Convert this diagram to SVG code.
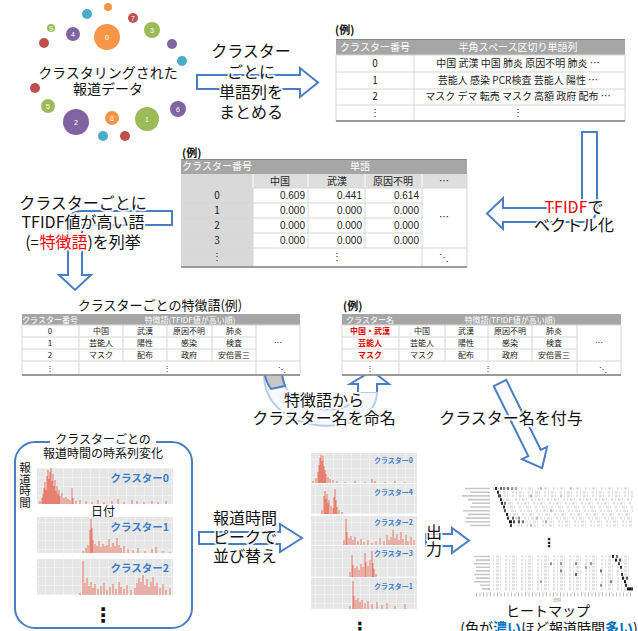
<svg xmlns="http://www.w3.org/2000/svg" width="638" height="631" viewBox="0 0 638 631">
<style>
.jp{font-family:"Noto Sans CJK JP","Noto Sans",sans-serif}
.t16{font-size:16px;fill:#111;text-anchor:middle}
.lbl{paint-order:stroke;stroke:#fff;stroke-width:4;stroke-opacity:.85;stroke-linejoin:round}
.arr{fill:#fff;stroke:#4a7dc1;stroke-width:2;stroke-linejoin:miter}
.hd{fill:#fff;font-size:10px;text-anchor:middle}
.hd8{fill:#fff;font-size:8px;text-anchor:middle}
.c10{font-size:10px;fill:#222;text-anchor:middle}
.c8{font-size:8px;fill:#222;text-anchor:middle}
.r10{font-size:10px;fill:#222;text-anchor:end;font-family:"Liberation Sans",sans-serif}
.red8{font-size:8px;fill:#e00000;font-weight:bold;text-anchor:middle}
.ln{stroke:#d6d6d6;stroke-width:1}
.bot{stroke:#7f7f7f;stroke-width:1.5}
.bars{stroke:#e8806f;stroke-width:1.1;fill:none}
.cl{font-size:10.5px;font-weight:bold;fill:#3a7ccb;text-anchor:end}
.cls{font-size:7px;font-weight:bold;fill:#3a7ccb;text-anchor:end}
.num{font-family:"Liberation Sans",sans-serif;font-size:7px;fill:#fff;text-anchor:middle}
.hr{stroke:#e2e2e2;stroke-width:2.6;stroke-dasharray:1 2 3 1 1 4 2 2}
</style>
<defs>
<pattern id="g" x="0" y="0" width="9" height="9" patternUnits="userSpaceOnUse">
<rect width="9" height="9" fill="#e6e6e6"/>
<path d="M0 0V9M0 0H9" stroke="#fff" stroke-width="0.7"/>
</pattern>
</defs>
<rect width="638" height="631" fill="#fff"/>

<!-- cluster image -->
<g id="clusters">
<circle cx="108" cy="7" r="4" fill="#f79646"/>
<circle cx="87" cy="14" r="5" fill="#4bacc6"/>
<circle cx="133" cy="18" r="5" fill="#c0504d"/><text class="num" x="133" y="20.5">7</text>
<circle cx="51" cy="28" r="4" fill="#9bbb59"/><text class="num" x="51" y="30.5" font-size="6">9</text>
<circle cx="73" cy="34" r="7" fill="#8064a2"/><text class="num" x="73" y="36.5">4</text>
<circle cx="107" cy="37" r="13" fill="#f79646"/><text class="num" x="107" y="39.5">0</text>
<circle cx="152" cy="30" r="8" fill="#9bbb59"/><text class="num" x="152" y="32.5">3</text>
<circle cx="44" cy="43" r="5" fill="#c0504d"/>
<circle cx="172" cy="44" r="5" fill="#8064a2"/>
<circle cx="182" cy="61" r="5" fill="#4bacc6"/>
<circle cx="35" cy="88" r="5" fill="#c0504d"/>
<circle cx="48" cy="106" r="7" fill="#9bbb59"/><text class="num" x="48" y="108.5">5</text>
<circle cx="178" cy="109" r="8" fill="#8064a2"/><text class="num" x="178" y="111.5">6</text>
<circle cx="76" cy="122" r="13" fill="#8064a2"/><text class="num" x="76" y="124.5">2</text>
<circle cx="112" cy="118" r="7" fill="#f79646"/><text class="num" x="112" y="120.5">8</text>
<circle cx="147" cy="119" r="12" fill="#9bbb59"/><text class="num" x="147" y="121.5">1</text>
<circle cx="103" cy="136" r="5" fill="#4bacc6"/>
<circle cx="125" cy="136" r="5" fill="#c0504d"/>
<text class="jp" x="108" y="78" font-size="14" text-anchor="middle" fill="#111">クラスタリングされた</text>
<text class="jp" x="108" y="94" font-size="14" text-anchor="middle" fill="#111">報道データ</text>
</g>

<!-- connectors -->
<g id="connectors">
<path class="arr" d="M197,75 H300 V68 L318,82.5 L300,97 V89 H197 Z"/>
<path class="arr" d="M582,132 H597 V207 Q597,222 582,222 H503 V229 L487,213.5 L503,198 V208 H582 Z"/>
<path class="arr" d="M172,211 H82 Q68,211 68,225 V275 H59 L75,290 L91,275 H82 V225 H172 Z"/>
<path d="M264,372 C262,440 377,440 377,392 L358,392 C358,418 283,418 282,372 Z" fill="#eef3fa" fill-opacity="0.6" stroke="#b9cce7" stroke-width="2"/>
<path d="M358,392 V384 H350 L372,371 L389,384 H377 V392" class="arr"/>
<path d="M264,369 H281 Q282,378 285,386 L271,389 Q265,381 264,369 Z" fill="#c8c8c8" stroke="#4a7dc1" stroke-width="2"/>
<path class="arr" transform="translate(500,383) rotate(63.7)" d="M0,-7 H78 V-14 L95,0 L78,14 V7 H0 Z"/>
<path class="arr" d="M199,532 H280 V524 L302,538 L280,552 V544 H199 Z"/>
<path class="arr" d="M426,534 H452 V528 L469,540.5 L452,553 V546 H426 Z"/>
</g>

<!-- arrow labels -->
<g id="label-matome" class="jp t16 lbl">
<text x="251" y="57">クラスター</text>
<text x="251" y="78">ごとに</text>
<text x="251" y="98">単語列を</text>
<text x="251" y="118">まとめる</text>
</g>
<g id="label-tfidf" class="jp t16 lbl">
<text x="574" y="213"><tspan fill="#ff0000">TFIDF</tspan>で</text>
<text x="574" y="231">ベクトル化</text>
</g>
<g id="label-tokucho" class="jp t16 lbl">
<text x="83" y="209">クラスターごとに</text>
<text x="83" y="228">TFIDF値が高い語</text>
<text x="83" y="248">(=<tspan fill="#ff0000">特徴語</tspan>)を列挙</text>
</g>
<g id="label-meimei" class="jp t16 lbl">
<text x="324" y="406">特徴語から</text>
<text x="324" y="424">クラスター名を命名</text>
</g>
<g id="label-fuyo" class="jp t16 lbl">
<text x="511" y="424">クラスター名を付与</text>
</g>
<g id="label-sort" class="jp t16 lbl">
<text x="245" y="524">報道時間</text>
<text x="245" y="543">ピークで</text>
<text x="245" y="562">並び替え</text>
</g>
<g id="label-out" class="jp t16 lbl">
<text x="434" y="538">出</text>
<text x="434" y="555">力</text>
</g>

<!-- table 1 -->
<g id="table-words" class="jp">
<text x="335" y="34" font-size="11" font-weight="bold" fill="#111">(例)</text>
<rect x="336" y="39" width="289" height="16" fill="#a6a6a6"/>
<line x1="336" y1="39.5" x2="625" y2="39.5" stroke="#8a8a8a"/>
<rect x="336" y="55" width="289" height="66" fill="#fff" class="ln"/>
<path class="ln" d="M336 72H625M336 89H625M336 105H625M414 55V121"/>
<line class="bot" x1="336" y1="121" x2="625" y2="121"/>
<text class="hd" x="375" y="51">クラスター番号</text>
<text class="hd" x="518" y="51">半角スペース区切り単語列</text>
<text class="c10" x="375" y="67">0</text>
<text class="c10" x="375" y="84">1</text>
<text class="c10" x="375" y="100">2</text>
<text class="c10" x="375" y="116">⋮</text>
<text class="c10" x="518" y="67">中国 武漢 中国 肺炎 原因不明 肺炎 …</text>
<text class="c10" x="518" y="84">芸能人 感染 PCR検査 芸能人 陽性 …</text>
<text class="c10" x="518" y="100">マスク デマ 転売 マスク 高額 政府 配布 …</text>
<text class="c10" x="518" y="116">⋮</text>
</g>

<!-- table 2 -->
<g id="table-tfidf" class="jp">
<text x="182" y="157" font-size="11" font-weight="bold" fill="#111">(例)</text>
<rect x="181" y="159" width="286" height="15" fill="#a6a6a6"/>
<line x1="181" y1="159.5" x2="467" y2="159.5" stroke="#8a8a8a"/>
<rect x="181" y="174" width="72" height="93" fill="#d9d9d9"/>
<rect x="253" y="174" width="214" height="14" fill="#dedede"/>
<path d="M308 174V188M365 174V188M422 174V188M253 174V188" stroke="#fff"/>
<rect x="253" y="188" width="214" height="79" fill="#fff"/>
<path class="ln" d="M253 188H467M253 203H422M253 218H422M253 233H422M253 248H467M253 188V267M308 188V248M365 188V248M422 188V267M467 174V267M181 203H253M181 218H253M181 233H253M181 248H253"/>
<line class="bot" x1="181" y1="267" x2="467" y2="267"/>
<text class="hd" x="217" y="170">クラスター番号</text>
<text class="hd" x="360" y="170">単語</text>
<text class="c10" x="280" y="185">中国</text>
<text class="c10" x="337" y="185">武漢</text>
<text class="c10" x="393" y="185">原因不明</text>
<text class="c10" x="444" y="185">…</text>
<text class="c10" x="217" y="199">0</text>
<text class="c10" x="217" y="214">1</text>
<text class="c10" x="217" y="229">2</text>
<text class="c10" x="217" y="244">3</text>
<text class="c10" x="217" y="260">⋮</text>
<text class="r10" x="305" y="199">0.609</text><text class="r10" x="362" y="199">0.441</text><text class="r10" x="419" y="199">0.614</text>
<text class="r10" x="305" y="214">0.000</text><text class="r10" x="362" y="214">0.000</text><text class="r10" x="419" y="214">0.000</text>
<text class="r10" x="305" y="229">0.000</text><text class="r10" x="362" y="229">0.000</text><text class="r10" x="419" y="229">0.000</text>
<text class="r10" x="305" y="244">0.000</text><text class="r10" x="362" y="244">0.000</text><text class="r10" x="419" y="244">0.000</text>
<text class="c10" x="444" y="221">…</text>
<text class="c10" x="337" y="260">⋮</text>
<text class="c10" x="444" y="261">⋱</text>
</g>

<!-- table 3 -->
<g id="table-features" class="jp">
<text x="160" y="310" font-size="13" text-anchor="middle" fill="#111">クラスターごとの特徴語(例)</text>
<rect x="22" y="314" width="278" height="11" fill="#a6a6a6"/>
<rect x="22" y="325" width="278" height="50" fill="#fff" class="ln"/>
<path class="ln" d="M22 337H256M22 349H256M22 361H300M79 325V375M123 325V361M167 325V361M212 325V361M256 325V375"/>
<line class="bot" x1="22" y1="375" x2="300" y2="375"/>
<text class="hd8" x="50" y="322.5">クラスター番号</text>
<text class="hd8" x="190" y="322.5">特徴語(TFIDF値が高い順)</text>
<text class="c8" x="50" y="334">0</text><text class="c8" x="101" y="334">中国</text><text class="c8" x="145" y="334">武漢</text><text class="c8" x="189" y="334">原因不明</text><text class="c8" x="234" y="334">肺炎</text>
<text class="c8" x="50" y="346">1</text><text class="c8" x="101" y="346">芸能人</text><text class="c8" x="145" y="346">陽性</text><text class="c8" x="189" y="346">感染</text><text class="c8" x="234" y="346">検査</text>
<text class="c8" x="50" y="358">2</text><text class="c8" x="101" y="358">マスク</text><text class="c8" x="145" y="358">配布</text><text class="c8" x="189" y="358">政府</text><text class="c8" x="234" y="358">安倍晋三</text>
<text class="c8" x="278" y="346" fill="#888">…</text>
<text class="c8" x="50" y="371">⋮</text><text class="c8" x="167" y="371">⋮</text><text class="c8" x="282" y="372" fill="#888">⋱</text>
</g>

<!-- table 4 -->
<g id="table-names" class="jp">
<text x="343" y="310" font-size="11" font-weight="bold" fill="#111">(例)</text>
<rect x="342" y="314" width="279" height="11" fill="#a6a6a6"/>
<rect x="342" y="325" width="279" height="50" fill="#fff" class="ln"/>
<path class="ln" d="M342 337H577M342 349H577M342 361H621M399 325V375M445 325V361M488 325V361M532 325V361M577 325V375"/>
<line class="bot" x1="342" y1="375" x2="621" y2="375"/>
<text class="hd8" x="370" y="322.5">クラスター名</text>
<text class="hd8" x="510" y="322.5">特徴語(TFIDF値が高い順)</text>
<text class="red8" x="370" y="334">中国・武漢</text><text class="c8" x="422" y="334">中国</text><text class="c8" x="466" y="334">武漢</text><text class="c8" x="510" y="334">原因不明</text><text class="c8" x="554" y="334">肺炎</text>
<text class="red8" x="370" y="346">芸能人</text><text class="c8" x="422" y="346">芸能人</text><text class="c8" x="466" y="346">陽性</text><text class="c8" x="510" y="346">感染</text><text class="c8" x="554" y="346">検査</text>
<text class="red8" x="370" y="358">マスク</text><text class="c8" x="422" y="358">マスク</text><text class="c8" x="466" y="358">配布</text><text class="c8" x="510" y="358">政府</text><text class="c8" x="554" y="358">安倍晋三</text>
<text class="c8" x="599" y="346" fill="#888">…</text>
<text class="c8" x="370" y="371">⋮</text><text class="c8" x="488" y="371">⋮</text><text class="c8" x="603" y="372" fill="#888">⋱</text>
</g>

<!-- time series box -->
<g id="timeseries" class="jp">
<rect x="15" y="442" width="177" height="186" rx="20" fill="none" stroke="#4a7dc1" stroke-width="2"/>
<rect x="50" y="434" width="106" height="16" fill="#fff"/>
<text x="103" y="444" font-size="12" text-anchor="middle" fill="#111">クラスターごとの</text>
<text x="103" y="458" font-size="12" text-anchor="middle" fill="#111">報道時間の時系列変化</text>
<text x="25" y="462" font-size="11.5" fill="#111" style="writing-mode:vertical-rl">報道時間</text>
<rect x="37" y="468" width="136" height="36" fill="url(#g)"/>
<path class="bars" d="M40 504V501M42 504V498M43 504V494M44 504V488M45 504V482M46 504V490M47 504V476M48 504V470M49 504V479M50 504V472M51 504V468M52 504V481M53 504V474M54 504V486M55 504V480M56 504V491M57 504V486M58 504V494M59 504V490M60 504V496M62 504V493M64 504V498M66 504V497M68 504V499M70 504V500M72 504V488M73 504V498M76 504V501M80 504V500M86 504V501M92 504V502M98 504V500M104 504V502M112 504V501M118 504V499M124 504V502M132 504V500M137 504V501M144 504V502M152 504V501M158 504V502M166 504V501"/>
<text class="cl" x="169" y="482">クラスター0</text>
<text x="103" y="516" font-size="12" text-anchor="middle" fill="#111">日付</text>
<rect x="37" y="517" width="136" height="36" fill="url(#g)"/>
<path class="bars" d="M83 553V551M86 553V548M88 553V545M90 553V530M91 553V519M92 553V528M93 553V540M95 553V544M97 553V546M99 553V541M101 553V547M103 553V544M105 553V546M107 553V545M109 553V539M111 553V547M113 553V543M115 553V546M117 553V538M119 553V545M121 553V548M124 553V546M128 553V549M133 553V550M138 553V548M145 553V551M152 553V549M156 553V547M163 553V551M170 553V552"/>
<text class="cl" x="169" y="531">クラスター1</text>
<rect x="37" y="559" width="136" height="36" fill="url(#g)"/>
<path class="bars" d="M80 595V593M83 595V561M85 595V583M87 595V578M89 595V586M91 595V582M93 595V588M95 595V584M98 595V589M101 595V586M104 595V583M107 595V590M110 595V587M113 595V584M116 595V589M119 595V582M121 595V587M124 595V589M127 595V585M131 595V590M135 595V588M137 595V583M139 595V578M141 595V582M143 595V575M145 595V585M147 595V579M149 595V587M151 595V582M153 595V577M155 595V586M157 595V583M160 595V588M163 595V584M166 595V590M170 595V588"/>
<text class="cl" x="169" y="572">クラスター2</text>
<text x="103" y="622" font-size="20" font-weight="bold" text-anchor="middle" fill="#111" font-family="DejaVu Sans">⋮</text>
</g>

<!-- sorted panels -->
<g id="sorted" class="jp">
<rect x="311" y="453" width="106" height="30" fill="url(#g)"/>
<rect x="311" y="484" width="106" height="30" fill="url(#g)"/>
<rect x="311" y="516" width="106" height="29" fill="url(#g)"/>
<rect x="311" y="546" width="106" height="31" fill="url(#g)"/>
<rect x="311" y="578" width="106" height="31" fill="url(#g)"/>
<path class="bars" d="M313 483V481M316 483V478M318 483V472M319 483V465M320 483V458M321 483V455M322 483V461M323 483V456M324 483V466M325 483V470M326 483V474M328 483V477M330 483V479M333 483V480M337 483V481M345 483V482M355 483V481M365 483V482M372 483V479M375 483V481M385 483V482M395 483V481M405 483V482"/>
<path class="bars" d="M322 514V510M324 514V496M325 514V491M326 514V499M327 514V494M328 514V503M329 514V500M331 514V506M333 514V508M334 514V497M335 514V489M336 514V500M337 514V507M339 514V510M342 514V512"/>
<path class="bars" d="M344 545V540M346 545V519M347 545V532M349 545V538M351 545V536M353 545V540M355 545V537M358 545V541M361 545V539M364 545V542M368 545V540M372 545V543M376 545V541M380 545V538M384 545V541M387 545V535M389 545V540M391 545V537M393 545V530M395 545V538M397 545V534M399 545V540M401 545V532M403 545V539M406 545V535M408 545V541M411 545V537M414 545V540"/>
<path class="bars" d="M350 577V572M352 577V555M353 577V565M355 577V568M357 577V566M359 577V570M361 577V564M363 577V567M365 577V553M366 577V562M368 577V566M370 577V560M372 577V551M373 577V563M374 577V569M376 577V574"/>
<path class="bars" d="M350 609V606M353 609V581M354 609V596M356 609V600M358 609V598M360 609V602M362 609V600M365 609V603M368 609V601M372 609V604M377 609V602M382 609V605M387 609V603M395 609V606M405 609V604"/>
<text class="cls" x="413" y="463">クラスター0</text>
<text class="cls" x="413" y="495">クラスター4</text>
<text class="cls" x="413" y="525">クラスター2</text>
<text class="cls" x="413" y="556">クラスター3</text>
<text class="cls" x="413" y="589">クラスター1</text>
<text x="360" y="635" font-size="18" font-weight="bold" text-anchor="middle" fill="#111" font-family="DejaVu Sans">⋮</text>
</g>

<!-- heatmap -->
<g id="heatmap" class="jp">
<path d="M465 488.5H490M470 492.2H490M462 495.9H490M468 499.6H490M472 503.3H490M470 507H490M463 510.7H490M468 514.4H490M466 518.1H490M465 521.8H490M470 525.5H490" stroke="#c8c8c8" stroke-width="1.6"/>
<path d="M474 556.5H490M476 560.1H490M474 563.7H490M476 567.3H490M476 570.9H490M474 574.5H490M476 578.1H490M474 581.7H490M480 585.3H490M482 588.9H490" stroke="#c8c8c8" stroke-width="1.6"/>
<path class="hr" d="M493 488.5H633M500 492.2H633M500 495.9H633M503 499.6H633M505 503.3H633M507 507H633M508 510.7H633M510 514.4H633M512 518.1H633M514 521.8H633M514 525.5H633"/>
<path class="hr" d="M493 556.5H633M493 560.1H633M493 563.7H633M493 567.3H633M493 570.9H633M493 574.5H633M493 578.1H633M493 581.7H633M493 585.3H633M493 588.9H633"/>
<rect x="495" y="487" width="2" height="3" fill="#333"/><rect x="500" y="487" width="2" height="3" fill="#666"/><rect x="503" y="487" width="2" height="3" fill="#888"/><rect x="507" y="487" width="2" height="3" fill="#777"/><rect x="511" y="487" width="2" height="3" fill="#999"/><rect x="515" y="487" width="2" height="3" fill="#aaa"/><rect x="540" y="487" width="2" height="3" fill="#bbb"/><rect x="570" y="487" width="2" height="3" fill="#ccc"/>
<rect x="497" y="490.7" width="2" height="3" fill="#222"/>
<rect x="498" y="494.4" width="3" height="3" fill="#444"/><rect x="530" y="494.4" width="2" height="3" fill="#bbb"/><rect x="560" y="494.4" width="2" height="3" fill="#ccc"/>
<rect x="500" y="498.1" width="2" height="3" fill="#333"/>
<rect x="501" y="501.8" width="2" height="3" fill="#222"/><rect x="504" y="501.8" width="2" height="3" fill="#777"/>
<rect x="503" y="505.5" width="2" height="3" fill="#333"/>
<rect x="504" y="509.2" width="2" height="3" fill="#555"/><rect x="550" y="509.2" width="2" height="3" fill="#bbb"/>
<rect x="506" y="512.9" width="2" height="3" fill="#222"/>
<rect x="507" y="516.6" width="2" height="3" fill="#333"/><rect x="512" y="516.6" width="2" height="3" fill="#666"/><rect x="518" y="516.6" width="2" height="3" fill="#999"/><rect x="536" y="516.6" width="2" height="3" fill="#bbb"/>
<rect x="509" y="520.3" width="3" height="3" fill="#111"/><rect x="513" y="520.3" width="2" height="3" fill="#444"/><rect x="518" y="520.3" width="2" height="3" fill="#555"/><rect x="522" y="520.3" width="2" height="3" fill="#777"/><rect x="545" y="520.3" width="2" height="3" fill="#aaa"/>
<rect x="510" y="524" width="2" height="3" fill="#444"/><rect x="530" y="524" width="2" height="3" fill="#bbb"/>
<rect x="612" y="555" width="2" height="3" fill="#333"/><rect x="616" y="555" width="2" height="3" fill="#777"/>
<rect x="615" y="558.6" width="2" height="3" fill="#222"/><rect x="619" y="558.6" width="2" height="3" fill="#555"/>
<rect x="550" y="562.2" width="2" height="3" fill="#999"/><rect x="560" y="562.2" width="2" height="3" fill="#999"/><rect x="575" y="562.2" width="2" height="3" fill="#888"/><rect x="590" y="562.2" width="2" height="3" fill="#999"/><rect x="618" y="562.2" width="2" height="3" fill="#444"/>
<rect x="620" y="565.8" width="2" height="3" fill="#333"/><rect x="585" y="565.8" width="2" height="3" fill="#aaa"/>
<rect x="560" y="569.4" width="2" height="3" fill="#888"/><rect x="600" y="569.4" width="2" height="3" fill="#777"/>
<rect x="575" y="573" width="2" height="3" fill="#666"/><rect x="621" y="573" width="2" height="3" fill="#444"/>
<rect x="622" y="576.6" width="2" height="3" fill="#222"/><rect x="626" y="576.6" width="2" height="3" fill="#555"/>
<rect x="610" y="580.2" width="2" height="3" fill="#888"/><rect x="624" y="580.2" width="2" height="3" fill="#111"/><rect x="540" y="580.2" width="2" height="3" fill="#aaa"/>
<rect x="625" y="583.8" width="2" height="3" fill="#333"/><rect x="600" y="583.8" width="2" height="3" fill="#999"/>
<rect x="627" y="587.4" width="4" height="3" fill="#111"/><rect x="631" y="587.4" width="2" height="3" fill="#333"/>
<line x1="476" y1="594.5" x2="633" y2="594.5" stroke="#bdbdbd" stroke-width="4" stroke-dasharray="1 2.5"/>
<text x="557" y="601.5" font-size="4" text-anchor="middle" fill="#666">日付</text>
<text x="549" y="547" font-size="12" font-weight="bold" text-anchor="middle" fill="#111" font-family="DejaVu Sans">⋮</text>
<text x="548" y="616" font-size="14" text-anchor="middle" fill="#111">ヒートマップ</text>
<text x="549" y="633" font-size="14" text-anchor="middle" fill="#111">(色が<tspan fill="#0070c0" font-weight="bold">濃い</tspan>ほど報道時間<tspan fill="#0070c0" font-weight="bold">多い</tspan>)</text>
</g>
</svg>
